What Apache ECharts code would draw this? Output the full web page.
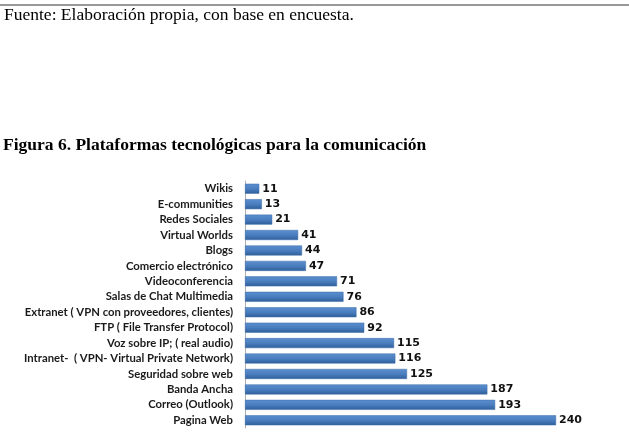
<!DOCTYPE html>
<html>
<head>
<meta charset="utf-8">
<script src="https://cdn.jsdelivr.net/npm/echarts@6/dist/echarts.min.js"></script>
<style>
  html, body { margin: 0; padding: 0; background: #fff; }
  #chart { width: 629px; height: 443px; }
</style>
</head>
<body>
<div id="chart"></div>
<script>
// plataformas, de arriba hacia abajo
var plataformas = [
  'Wikis', 'E-communities', 'Redes Sociales', 'Virtual Worlds', 'Blogs',
  'Comercio electrónico', 'Videoconferencia', 'Salas de Chat Multimedia',
  'Extranet ( VPN con proveedores, clientes)', 'FTP ( File Transfer Protocol)',
  'Voz sobre IP; ( real audio)', 'Intranet-  ( VPN- Virtual Private Network)',
  'Seguridad sobre web', 'Banda Ancha', 'Correo (Outlook)', 'Pagina Web'
];
var respuestas = [11, 13, 21, 41, 44, 47, 71, 76, 86, 92, 115, 116, 125, 187, 193, 240];

var chart = echarts.init(document.getElementById('chart'));
chart.setOption({
  animation: false,
  backgroundColor: '#fff',
  graphic: [
    { type: 'line', shape: { x1: 0, y1: 5, x2: 629, y2: 5 }, style: { stroke: '#333', lineWidth: 1 } },
    { type: 'text', left: 4, top: 6, style: { text: 'Fuente: Elaboración propia, con base en encuesta.', font: '17.5px "Liberation Serif"', fill: '#000' } },
    { type: 'text', left: 3, top: 136, style: { text: 'Figura 6. Plataformas tecnológicas para la comunicación', font: 'bold 17.5px "Liberation Serif"', fill: '#000' } }
  ],
  grid: { left: 245, right: 60, top: 181, bottom: 15 },
  xAxis: {
    type: 'value', min: 0, max: 250,
    show: false
  },
  yAxis: {
    type: 'category', data: plataformas, inverse: true,
    axisLine: { show: true, lineStyle: { color: '#b0b0b0' } },
    axisTick: { show: false },
    axisLabel: { fontFamily: 'Lato', fontWeight: 'bold', fontSize: 11.3, color: '#1a1a1a', margin: 12 }
  },
  series: [{
    type: 'bar', data: respuestas, barWidth: 10,
    itemStyle: {
      color: new echarts.graphic.LinearGradient(0, 0, 0, 1, [
        { offset: 0, color: '#5b8fd0' },
        { offset: 0.5, color: '#4a7ebf' },
        { offset: 1, color: '#2f5e9a' }
      ]),
      borderColor: '#3a6aa6', borderWidth: 0.5
    },
    label: { show: true, position: 'right', distance: 3, fontFamily: 'DejaVu Sans', fontWeight: 'bold', fontSize: 11, color: '#111' }
  }]
});
</script>
</body>
</html>
